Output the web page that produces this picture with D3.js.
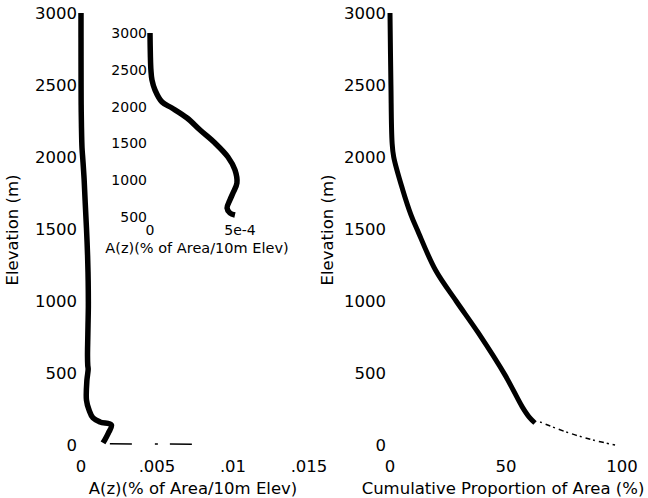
<!DOCTYPE html>
<html>
<head>
<meta charset="utf-8">
<script src="https://cdn.jsdelivr.net/npm/d3@7"></script>
<style>
  body { margin: 0; background: #fff; }
  svg { display: block; font-family: "DejaVu Sans", sans-serif; }
</style>
</head>
<body>
<svg id="chart" width="648" height="498"></svg>
<script>
// A(z) profile: elevation (m) and share of area per 10 m band
const profileElev = [3000, 2700, 2500, 2361, 2225, 2062, 1981, 1845, 1682, 1505, 1315, 1139, 962, 826, 731, 622, 554, 527, 451, 312, 243, 188, 160, 139, 83, 14];
const profileArea = [0, 0.000002, 0.000005, 0.000011, 0.000028, 0.000067, 0.000122, 0.000206, 0.000278, 0.000361, 0.000433, 0.000472, 0.000483, 0.000461, 0.000444, 0.000428, 0.000444, 0.000472, 0.00039, 0.00036, 0.00053, 0.00079, 0.00125, 0.0020, 0.0018, 0.00145];
// thin low-elevation tail of the A(z) curve
const tailElev = [8, 6];
const tailArea = [0.0019, 0.0074];

// cumulative proportion of area (%)
const cumElev = [3000, 2500, 2100, 2000, 1771, 1600, 1493, 1215, 1000, 780, 480, 265, 194, 153];
const cumPct = [0, 0.4, 0.9, 1.6, 5.5, 9, 11.8, 19.6, 28.5, 38, 49.8, 57, 60, 62.5];
const cumTailElev = [160, 90, 35, 0];
const cumTailPct = [64.7, 76, 87.5, 97];

const elevTicks = [0, 500, 1000, 1500, 2000, 2500, 3000];
const areaTicks = [0, 0.005, 0.01, 0.015];
const areaTickLabels = ['0', '.005', '.01', '.015'];
const cumTicks = [0, 50, 100];
const insetElevTicks = [500, 1000, 1500, 2000, 2500, 3000];
const insetAreaTicks = [0, 0.0005];
const insetAreaTickLabels = ['0', '5e-4'];

const svg = d3.select('#chart');

const y = d3.scaleLinear().domain([0, 3000]).range([445, 13]);
const xArea = d3.scaleLinear().domain([0, 0.005]).range([81, 157]);
const xCum = d3.scaleLinear().domain([0, 100]).range([390, 622]);
const xIn = d3.scaleLinear().domain([0, 0.0005]).range([150, 240]);
const yIn = d3.scaleLinear().domain([500, 3000]).range([217, 33]);

const zip = (a, b) => a.map((v, i) => [v, b[i]]);

function drawLine(data, xs, ys, width, dash, smooth) {
  const line = d3.line()
    .x(d => xs(d[1]))
    .y(d => ys(d[0]))
    .curve(smooth ? d3.curveCatmullRom.alpha(0.5) : d3.curveLinear);
  svg.append('path')
    .datum(data)
    .attr('d', line)
    .attr('fill', 'none')
    .attr('stroke', '#000')
    .attr('stroke-width', width)
    .attr('stroke-linejoin', 'round')
    .attr('stroke-dasharray', dash || null);
}

function yLabels(g, scale, ticks, right, size) {
  g.selectAll('text.yt')
    .data(ticks)
    .enter().append('text')
      .attr('class', 'yt')
      .attr('x', right)
      .attr('y', d => scale(d))
      .attr('dy', '0.36em')
      .attr('text-anchor', 'end')
      .attr('font-size', size)
      .text(d => d);
}

function xLabels(g, scale, ticks, labels, ypos, size) {
  g.selectAll('text.xt')
    .data(ticks)
    .enter().append('text')
      .attr('class', 'xt')
      .attr('x', d => scale(d))
      .attr('y', ypos)
      .attr('text-anchor', 'middle')
      .attr('font-size', size)
      .text((d, i) => labels[i]);
}

// left panel
const left = svg.append('g');
yLabels(left, y, elevTicks, 77, 16.5);
xLabels(left, xArea, areaTicks, areaTickLabels, 472, 16.5);
left.append('text')
  .attr('x', 193).attr('y', 494)
  .attr('text-anchor', 'middle').attr('font-size', 16.5)
  .text('A(z)(% of Area/10m Elev)');
left.append('text')
  .attr('transform', 'translate(18,230) rotate(-90)')
  .attr('text-anchor', 'middle').attr('font-size', 16.5)
  .text('Elevation (m)');
drawLine(zip(profileElev, profileArea), xArea, y, 5.5, null, true);
drawLine(zip(tailElev, tailArea), xArea, y, 1.5, '22 23 3 12 22 40');

// inset
const inset = svg.append('g');
yLabels(inset, yIn, insetElevTicks, 147, 14);
xLabels(inset, xIn, insetAreaTicks, insetAreaTickLabels, 235, 14);
inset.append('text')
  .attr('x', 197).attr('y', 253)
  .attr('text-anchor', 'middle').attr('font-size', 14.5)
  .text('A(z)(% of Area/10m Elev)');
const insetData = zip(profileElev, profileArea).filter(d => d[0] >= 500);
drawLine(insetData, xIn, yIn, 5.5, null, true);

// right panel
const right = svg.append('g');
yLabels(right, y, elevTicks, 386, 16.5);
xLabels(right, xCum, cumTicks, cumTicks.map(String), 472, 16.5);
right.append('text')
  .attr('x', 503).attr('y', 494)
  .attr('text-anchor', 'middle').attr('font-size', 16.5)
  .text('Cumulative Proportion of Area (%)');
right.append('text')
  .attr('transform', 'translate(333,230) rotate(-90)')
  .attr('text-anchor', 'middle').attr('font-size', 16.5)
  .text('Elevation (m)');
drawLine(zip(cumElev, cumPct), xCum, y, 5, null, true);
drawLine(zip(cumTailElev, cumTailPct), xCum, y, 1.5, '2 4 5 3', true);
</script>
</body>
</html>
